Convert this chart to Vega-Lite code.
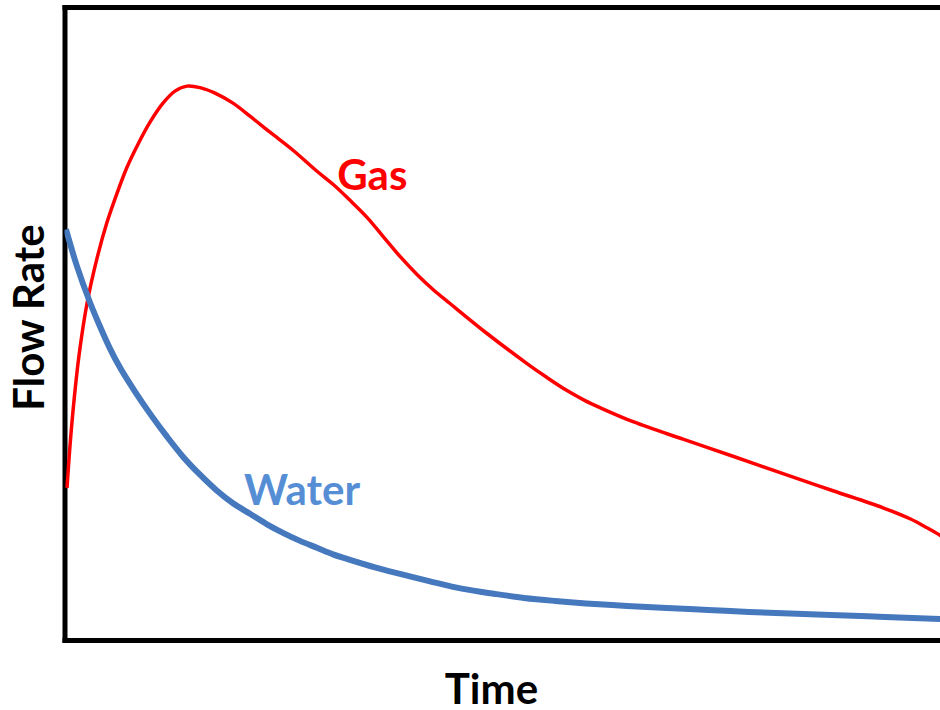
{
  "$schema": "https://vega.github.io/schema/vega-lite/v6.json",
  "width": 875.5,
  "height": 633,
  "autosize": "none",
  "padding": {"left": 64.5, "top": 7, "right": 0, "bottom": 70},
  "background": "white",
  "config": {"view": {"stroke": null}, "font": "Lato"},
  "datasets": {
    "gas": [
      {"time": 0.284, "flow": 24.05},
      {"time": 0.625, "flow": 30.7},
      {"time": 1.079, "flow": 37.82},
      {"time": 1.647, "flow": 44.94},
      {"time": 2.555, "flow": 53.16},
      {"time": 3.691, "flow": 60.28},
      {"time": 4.827, "flow": 65.98},
      {"time": 5.963, "flow": 70.57},
      {"time": 7.098, "flow": 74.68},
      {"time": 8.234, "flow": 78.01},
      {"time": 9.71, "flow": 81.8},
      {"time": 11.187, "flow": 84.81},
      {"time": 12.55, "flow": 86.71},
      {"time": 13.913, "flow": 87.5},
      {"time": 15.389, "flow": 87.26},
      {"time": 17.093, "flow": 86.39},
      {"time": 19.137, "flow": 84.81},
      {"time": 21.067, "flow": 82.75},
      {"time": 23.339, "flow": 80.22},
      {"time": 25.951, "flow": 77.37},
      {"time": 28.677, "flow": 74.05},
      {"time": 30.494, "flow": 71.99},
      {"time": 32.425, "flow": 69.46},
      {"time": 34.355, "flow": 66.77},
      {"time": 36.172, "flow": 63.77},
      {"time": 38.103, "flow": 60.6},
      {"time": 40.034, "flow": 57.75},
      {"time": 41.851, "flow": 55.38},
      {"time": 43.782, "flow": 53.16},
      {"time": 47.984, "flow": 48.42},
      {"time": 52.527, "flow": 43.67},
      {"time": 54.798, "flow": 41.46},
      {"time": 57.07, "flow": 39.4},
      {"time": 59.114, "flow": 37.82},
      {"time": 60.818, "flow": 36.71},
      {"time": 64.566, "flow": 34.49},
      {"time": 70.244, "flow": 31.72},
      {"time": 75.923, "flow": 29.03},
      {"time": 81.601, "flow": 26.27},
      {"time": 87.28, "flow": 23.58},
      {"time": 92.958, "flow": 20.89},
      {"time": 96.025, "flow": 19.15},
      {"time": 97.956, "flow": 17.72},
      {"time": 99.432, "flow": 16.53},
      {"time": 100, "flow": 15.98}
    ],
    "water": [
      {"time": 0.17, "flow": 64.87},
      {"time": 1.42, "flow": 59.02},
      {"time": 2.896, "flow": 53.32},
      {"time": 4.032, "flow": 49.53},
      {"time": 5.168, "flow": 46.04},
      {"time": 6.303, "flow": 43.04},
      {"time": 8.007, "flow": 39.24},
      {"time": 9.71, "flow": 35.76},
      {"time": 11.641, "flow": 32.12},
      {"time": 13.458, "flow": 28.96},
      {"time": 15.389, "flow": 26.11},
      {"time": 17.32, "flow": 23.58},
      {"time": 19.137, "flow": 21.6},
      {"time": 21.067, "flow": 19.94},
      {"time": 22.998, "flow": 18.28},
      {"time": 24.815, "flow": 16.93},
      {"time": 26.746, "flow": 15.66},
      {"time": 28.677, "flow": 14.56},
      {"time": 30.494, "flow": 13.53},
      {"time": 32.425, "flow": 12.66},
      {"time": 35.264, "flow": 11.47},
      {"time": 38.103, "flow": 10.44},
      {"time": 41.51, "flow": 9.26},
      {"time": 45.258, "flow": 8.07},
      {"time": 48.893, "flow": 7.28},
      {"time": 52.186, "flow": 6.65},
      {"time": 55.707, "flow": 6.17},
      {"time": 59.228, "flow": 5.78},
      {"time": 63.884, "flow": 5.38},
      {"time": 68.427, "flow": 5.06},
      {"time": 73.083, "flow": 4.75},
      {"time": 77.74, "flow": 4.43},
      {"time": 82.397, "flow": 4.19},
      {"time": 87.053, "flow": 3.96},
      {"time": 93.186, "flow": 3.64},
      {"time": 99.432, "flow": 3.32},
      {"time": 100, "flow": 3.3}
    ],
    "labels": [
      {"time": 34.95, "flow": 71.04, "label": "Gas"},
      {"time": 26.97, "flow": 21.36, "label": "Water"}
    ]
  },
  "resolve": {"axis": {"x": "independent"}},
  "layer": [
    {
      "data": {"name": "gas"},
      "mark": {"type": "line", "interpolate": "catmull-rom", "clip": true, "color": "#ff0000", "strokeWidth": 3.5},
      "encoding": {
        "x": {
          "field": "time", "type": "quantitative",
          "scale": {"domain": [0, 99.43], "nice": false, "zero": false},
          "axis": {
            "orient": "bottom", "domain": true, "domainWidth": 5, "domainColor": "black", "domainCap": "square",
            "ticks": false, "labels": false, "grid": false,
            "title": "Time", "titleFont": "Lato", "titleFontSize": 42, "titleFontWeight": "bold", "titleColor": "black",
            "titleX": 426.5, "titleY": 63, "titleBaseline": "alphabetic", "titleAlign": "center"
          }
        },
        "y": {
          "field": "flow", "type": "quantitative",
          "scale": {"domain": [0, 100], "nice": false},
          "axis": {
            "orient": "left", "domain": true, "domainWidth": 5, "domainColor": "black", "domainCap": "square",
            "ticks": false, "labels": false, "grid": false,
            "title": "Flow Rate", "titleFont": "Lato", "titleFontSize": 42, "titleFontWeight": "bold", "titleColor": "black",
            "titleAngle": -90, "titleX": -21.5, "titleY": 310, "titleBaseline": "alphabetic", "titleAlign": "center"
          }
        }
      }
    },
    {
      "data": {"name": "water"},
      "mark": {"type": "line", "interpolate": "catmull-rom", "clip": true, "color": "#4678be", "strokeWidth": 6},
      "encoding": {
        "x": {
          "field": "time", "type": "quantitative",
          "axis": {
            "orient": "top", "domain": true, "domainWidth": 5, "domainColor": "black", "domainCap": "square",
            "ticks": false, "labels": false, "grid": false, "title": null
          }
        },
        "y": {"field": "flow", "type": "quantitative"}
      }
    },
    {
      "data": {"name": "labels"},
      "mark": {"type": "text", "font": "Lato", "fontSize": 42, "fontWeight": "bold", "align": "center", "baseline": "alphabetic"},
      "encoding": {
        "x": {"field": "time", "type": "quantitative", "axis": null},
        "y": {"field": "flow", "type": "quantitative"},
        "text": {"field": "label"},
        "color": {"field": "label", "type": "nominal", "scale": {"domain": ["Gas", "Water"], "range": ["#ff0000", "#558ed5"]}, "legend": null}
      }
    }
  ]
}
